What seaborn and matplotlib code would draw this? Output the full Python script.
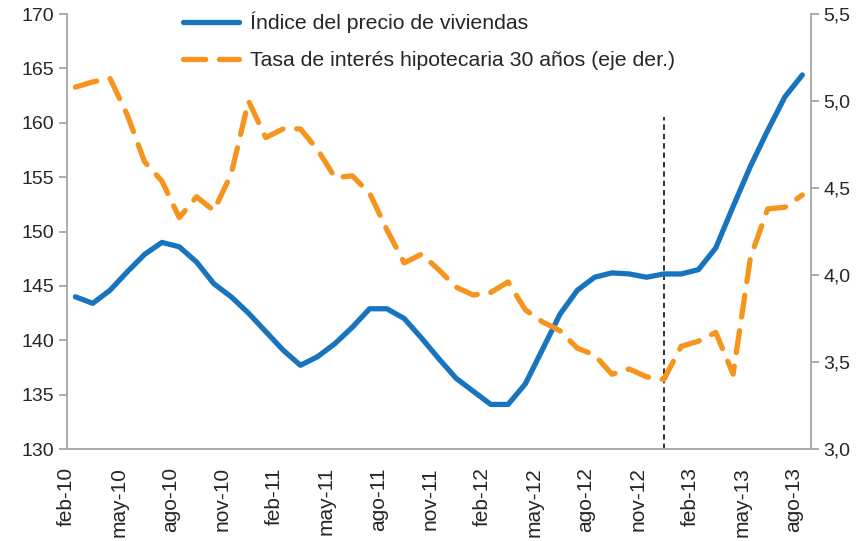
import numpy as np
import pandas as pd
import matplotlib
matplotlib.use("Agg")
import matplotlib.pyplot as plt
import seaborn as sns

months = ["feb-10", "mar-10", "abr-10", "may-10", "jun-10", "jul-10", "ago-10", "sep-10", "oct-10", "nov-10", "dic-10",
          "ene-11", "feb-11", "mar-11", "abr-11", "may-11", "jun-11", "jul-11", "ago-11", "sep-11", "oct-11", "nov-11", "dic-11",
          "ene-12", "feb-12", "mar-12", "abr-12", "may-12", "jun-12", "jul-12", "ago-12", "sep-12", "oct-12", "nov-12", "dic-12",
          "ene-13", "feb-13", "mar-13", "abr-13", "may-13", "jun-13", "jul-13", "ago-13"]

precio = [144.0, 143.4, 144.6, 146.3, 147.9, 149.0, 148.6, 147.2, 145.2, 144.0, 142.5,
          140.8, 139.1, 137.7, 138.5, 139.7, 141.2, 142.9, 142.9, 142.0, 140.2, 138.3, 136.5,
          135.3, 134.1, 134.1, 136.0, 139.2, 142.4, 144.6, 145.8, 146.2, 146.1, 145.8, 146.1,
          146.1, 146.5, 148.5, 152.3, 156.0, 159.3, 162.4, 164.4]

tasa = [5.08, 5.11, 5.13, 4.92, 4.65, 4.54, 4.33, 4.45, 4.37, 4.58, 5.00,
        4.79, 4.84, 4.84, 4.72, 4.56, 4.57, 4.47, 4.26, 4.07, 4.12, 4.03, 3.93,
        3.885, 3.90, 3.96, 3.80, 3.73, 3.68, 3.58, 3.54, 3.43, 3.46, 3.415, 3.40,
        3.59, 3.62, 3.67, 3.43, 4.10, 4.38, 4.39, 4.46]

tick_labels = months[::3]
left_ticks = [130, 135, 140, 145, 150, 155, 160, 165, 170]
right_ticks = [3.0, 3.5, 4.0, 4.5, 5.0, 5.5]
right_tick_labels = ["3,0", "3,5", "4,0", "4,5", "5,0", "5,5"]
marker_month = "dic-12"
marker_top = 160.5

label_precio = "Índice del precio de viviendas"
label_tasa = "Tasa de interés hipotecaria 30 años (eje der.)"

df = pd.DataFrame({"mes": months, "precio": precio, "tasa": tasa})
df["x"] = np.arange(len(df)) + 0.5

sns.set_style("white")
plt.rcParams["font.family"] = ["Liberation Sans", "DejaVu Sans"]

BLUE = "#1874bd"
ORANGE = "#f7941d"
GRAY = "#a6a6a6"
TXT = "#262626"
FS = 14

fig = plt.figure(figsize=(8.6, 5.41), dpi=100)
ax = fig.add_axes([0.0776, 0.170, 0.8654, 0.804])
ax2 = ax.twinx()

sns.lineplot(data=df, x="x", y="precio", ax=ax, color=BLUE, linewidth=3.8,
             label=label_precio, legend=False, solid_capstyle="round")
sns.lineplot(data=df, x="x", y="tasa", ax=ax2, color=ORANGE, linewidth=3.8,
             label=label_tasa, legend=False, dashes=False)
l2 = ax2.get_lines()[0]
l2.set_dashes([4.2, 2.6])
l2.set_dash_capstyle("round")

mx = df.loc[df["mes"] == marker_month, "x"].iloc[0]
ax.vlines(mx, left_ticks[0], marker_top, colors="#222222", linestyles=(0, (3, 2.2)), linewidth=1.3, zorder=1)

ax.set_xlim(0, len(months))
ax.set_ylim(130, 170)
ax2.set_ylim(3.0, 5.5)
ax.set_xticks(np.arange(0, len(months), 3))
ax.set_xticklabels(tick_labels, rotation=90, fontsize=15, color=TXT)
ax.set_yticks(left_ticks)
ax.set_yticklabels([str(v) for v in left_ticks], fontsize=FS, color=TXT)
ax2.set_yticks(right_ticks)
ax2.set_yticklabels(right_tick_labels, fontsize=FS, color=TXT)
ax.set_xlabel("")
ax.set_ylabel("")
ax2.set_ylabel("")

for a in (ax, ax2):
    a.spines["top"].set_visible(False)
    for s in ("left", "right", "bottom"):
        a.spines[s].set_color(GRAY)
        a.spines[s].set_linewidth(1.3)
ax.spines["right"].set_visible(False)
ax2.spines["left"].set_visible(False)
ax2.spines["bottom"].set_visible(False)

ax.tick_params(axis="y", which="major", direction="out", length=6, width=1.3, color=GRAY, pad=3)
ax.tick_params(axis="x", which="major", direction="out", length=6, width=1.3, color=GRAY, pad=7)
ax2.tick_params(axis="y", direction="out", length=6, width=1.3, color=GRAY, pad=3)

handles = [ax.get_lines()[0], l2]
leg = ax.legend(handles, [label_precio, label_tasa], loc="upper left", bbox_to_anchor=(0.156, 1.005),
                frameon=False, fontsize=15.3, handlelength=2.65, labelspacing=0.85, handletextpad=0.5,
                borderpad=0, borderaxespad=0)
for t in leg.get_texts():
    t.set_color(TXT)

fig.savefig("out.png", dpi=100)
